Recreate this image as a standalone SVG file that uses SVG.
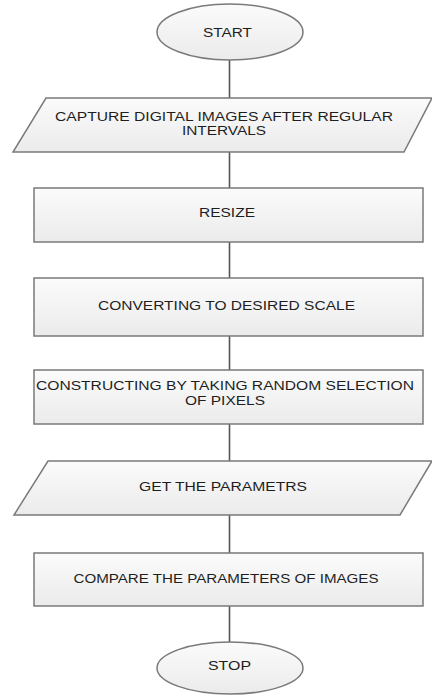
<svg xmlns="http://www.w3.org/2000/svg" width="432" height="696" viewBox="0 0 432 696">
<defs>
<linearGradient id="g" x1="0" y1="0" x2="0" y2="1">
<stop offset="0" stop-color="#fbfbfb"/>
<stop offset="1" stop-color="#ebebeb"/>
</linearGradient>
<style>
.s{fill:url(#g);stroke:#7a7a7a;stroke-width:1.5}
.c{stroke:#555;stroke-width:1.6;fill:none}
text{font-family:"Liberation Sans",Arial,sans-serif;font-size:12.5px;fill:#1e1e1e;text-anchor:middle}
</style>
</defs>
<rect width="432" height="696" fill="#fff"/>
<g id="connectors">
<line class="c" x1="229.5" y1="60" x2="229.5" y2="98"/>
<line class="c" x1="229.5" y1="152" x2="229.5" y2="188"/>
<line class="c" x1="229.5" y1="242" x2="229.5" y2="278"/>
<line class="c" x1="229.5" y1="336" x2="229.5" y2="370"/>
<line class="c" x1="229.5" y1="424" x2="229.5" y2="461"/>
<line class="c" x1="229.5" y1="515" x2="229.5" y2="553"/>
<line class="c" x1="229.5" y1="606" x2="229.5" y2="642"/>
</g>
<g id="start">
<ellipse class="s" cx="230" cy="32" rx="73" ry="28"/>
<text x="227.5" y="37" textLength="49" lengthAdjust="spacingAndGlyphs">START</text>
</g>
<g id="capture">
<polygon class="s" points="46,98 432,98 404,152 13,152"/>
<text x="224" y="120.5" textLength="338" lengthAdjust="spacingAndGlyphs">CAPTURE DIGITAL IMAGES AFTER REGULAR</text>
<text x="224" y="135" textLength="84" lengthAdjust="spacingAndGlyphs">INTERVALS</text>
</g>
<g id="resize">
<rect class="s" x="34" y="188" width="389" height="54"/>
<text x="227" y="216.5" textLength="56" lengthAdjust="spacingAndGlyphs">RESIZE</text>
</g>
<g id="convert">
<rect class="s" x="34" y="278" width="389" height="58"/>
<text x="226.5" y="310" textLength="257" lengthAdjust="spacingAndGlyphs">CONVERTING TO DESIRED SCALE</text>
</g>
<g id="construct">
<rect class="s" x="34" y="370" width="389" height="54"/>
<text x="225" y="390" textLength="378" lengthAdjust="spacingAndGlyphs">CONSTRUCTING BY TAKING RANDOM SELECTION</text>
<text x="225" y="404.5" textLength="80" lengthAdjust="spacingAndGlyphs">OF PIXELS</text>
</g>
<g id="getparams">
<polygon class="s" points="48,461 432,461 400,515 14,515"/>
<text x="223" y="491" textLength="168" lengthAdjust="spacingAndGlyphs">GET THE PARAMETRS</text>
</g>
<g id="compare">
<rect class="s" x="34" y="553" width="389" height="53"/>
<text x="226" y="583" textLength="305" lengthAdjust="spacingAndGlyphs">COMPARE THE PARAMETERS OF IMAGES</text>
</g>
<g id="stop">
<ellipse class="s" cx="230" cy="668" rx="73" ry="26"/>
<text x="229.5" y="670" textLength="43" lengthAdjust="spacingAndGlyphs">STOP</text>
</g>
</svg>
